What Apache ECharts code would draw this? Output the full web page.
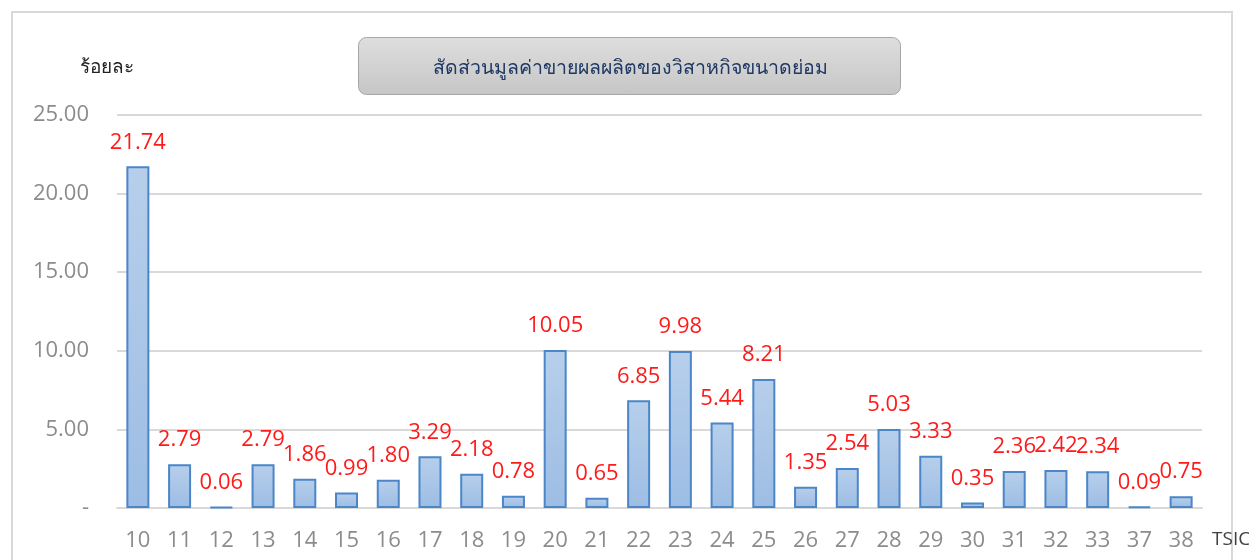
<!DOCTYPE html>
<html><head><meta charset="utf-8">
<script src="https://cdn.jsdelivr.net/npm/echarts@6/dist/echarts.min.js"></script>
<style>html,body{margin:0;padding:0;background:#fff}#c{width:1249px;height:560px}</style>
</head><body><div id="c"></div>
<script>
const categories = ['10','11','12','13','14','15','16','17','18','19','20','21','22','23','24','25','26','27','28','29','30','31','32','33','37','38'];
const shares = [21.74,2.79,0.06,2.79,1.86,0.99,1.80,3.29,2.18,0.78,10.05,0.65,6.85,9.98,5.44,8.21,1.35,2.54,5.03,3.33,0.35,2.36,2.42,2.34,0.09,0.75];
const yTicks = [0,5,10,15,20,25];
const titleText = 'สัดส่วนมูลค่าขายผลผลิตของวิสาหกิจขนาดย่อม';
const yName = 'ร้อยละ';
const xName = 'TSIC';

const chart = echarts.init(document.getElementById('c'));
chart.setOption({
  animation: false,
  graphic: [
    {type:'rect', shape:{x:12,y:12,width:1220,height:560}, style:{fill:'none',stroke:'#d9d9d9',lineWidth:2}, z:0},
    {type:'rect', shape:{x:358.5,y:37.5,width:542,height:57,r:8},
     style:{fill:new echarts.graphic.LinearGradient(0,0,0,1,[{offset:0,color:'#dedede'},{offset:1,color:'#c6c6c6'}]),stroke:'#a6a6a6',lineWidth:1}, z:1},
    {type:'text', x:630, y:68, style:{text:titleText, fill:'#1f3864', font:'19.5px "Noto Sans", sans-serif', align:'center', verticalAlign:'middle'}, z:2},
    {type:'text', x:80, y:68, style:{text:yName, fill:'#222', font:'19px "Noto Sans", sans-serif', align:'left', verticalAlign:'middle'}, z:2},
    {type:'text', x:1212, y:540, style:{text:xName, fill:'#404040', font:'19px "Open Sans", sans-serif', align:'left', verticalAlign:'middle'}, z:2}
  ],
  grid: {left:117, right:47, top:115, bottom:52},
  xAxis: {
    type:'category', data:categories,
    axisLine:{show:true, lineStyle:{color:'#d9d9d9', width:2}},
    axisTick:{show:false},
    axisLabel:{color:'#8c8c8c', fontSize:22, margin:22, fontFamily:'"Open Sans", sans-serif'}
  },
  yAxis: {
    type:'value', min:0, max:25, interval:5,
    axisLine:{show:false}, axisTick:{show:false},
    splitLine:{lineStyle:{color:'#d9d9d9', width:2}},
    axisLabel:{color:'#8c8c8c', fontSize:22, margin:28, fontFamily:'"Open Sans", sans-serif',
      formatter: v => v === 0 ? '-' : v.toFixed(2)}
  },
  series: [{
    type:'bar', data:shares, barWidth:23,
    itemStyle:{
      color:new echarts.graphic.LinearGradient(0,0,0,1,[{offset:0,color:'#b7cfeb'},{offset:1,color:'#9dbde4'}]),
      borderColor:'#4a86c8', borderWidth:2
    },
    label:{show:true, position:'top', distance:13, color:'#ff1a1a', fontSize:22, fontFamily:'"Open Sans", sans-serif',
      formatter: p => p.value.toFixed(2)}
  }]
});
</script></body></html>
